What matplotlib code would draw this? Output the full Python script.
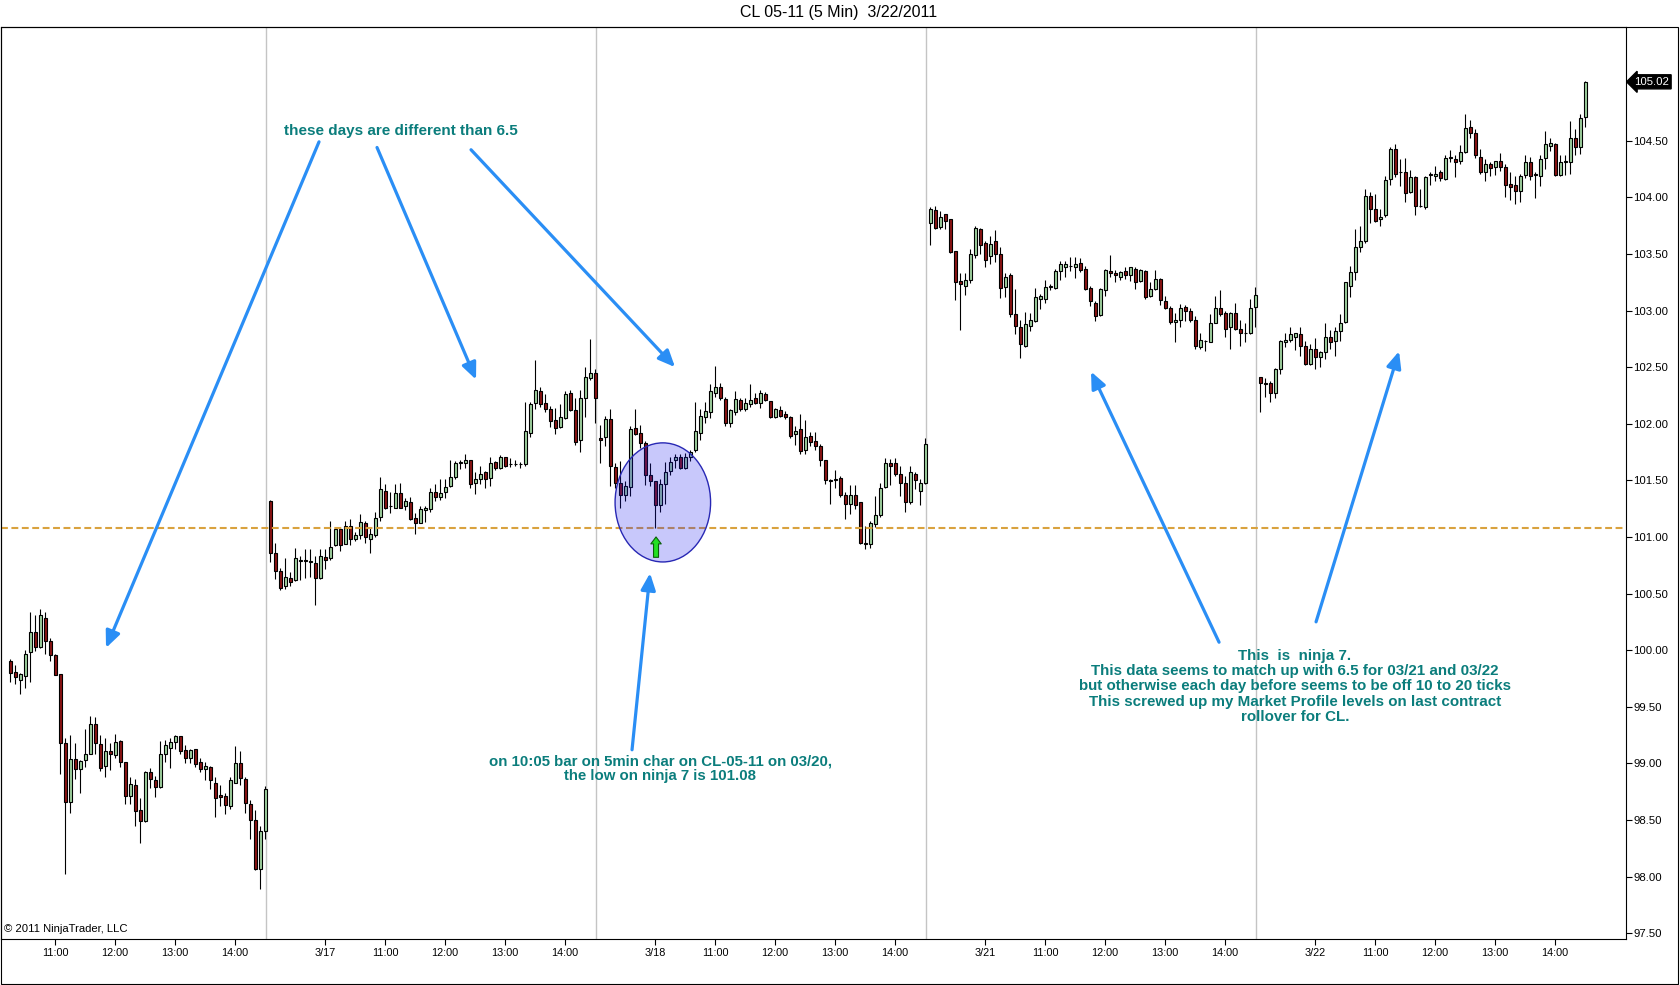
import numpy as np
import matplotlib
matplotlib.use("Agg")
import matplotlib.pyplot as plt
import matplotlib.transforms as mtransforms
from matplotlib.patches import Ellipse, Rectangle
from datetime import datetime, timedelta

plt.rcParams['font.family'] = ['Liberation Sans', 'DejaVu Sans']

# sessions on the chart (5 min bars, 9:05 .. 14:30)
days = ['3/16', '3/17', '3/18', '3/21', '3/22']
first_bar = ['10:15', '09:05', '09:05', '09:05', '09:05']

open_0316 = [99.90, 99.81, 99.74, 99.77, 99.98, 100.16, 100.03, 100.28, 100.08, 99.96,
             99.79, 99.18, 98.66, 99.04, 98.95, 99.03, 99.08, 99.35, 99.17, 98.98,
             99.11, 99.07, 99.20, 99.01, 98.71, 98.81, 98.59, 98.49, 98.92, 98.85,
             98.79, 99.08, 99.14, 99.19, 99.24, 99.12, 99.05, 99.13, 99.01, 98.95,
             98.97, 98.83, 98.72, 98.71, 98.62, 98.83, 99.00, 98.86, 98.64, 98.50,
             98.07, 98.40]
high_0316 = [99.92, 99.87, 99.80, 100.00, 100.34, 100.31, 100.36, 100.34, 100.11, 99.97,
             99.79, 99.22, 99.25, 99.18, 99.03, 99.30, 99.42, 99.41, 99.25, 99.22,
             99.18, 99.26, 99.21, 99.01, 98.88, 98.86, 98.69, 98.93, 98.96, 98.89,
             99.20, 99.21, 99.22, 99.25, 99.24, 99.16, 99.13, 99.13, 99.05, 99.01,
             98.98, 98.88, 98.81, 98.74, 98.88, 99.15, 99.11, 98.88, 98.68, 98.59,
             98.45, 98.80]
low_0316 = [99.72, 99.70, 99.61, 99.67, 99.72, 99.99, 100.02, 99.97, 99.90, 99.78,
            98.91, 98.02, 98.56, 98.86, 98.74, 98.97, 99.08, 99.08, 98.93, 98.88,
            98.94, 99.05, 98.97, 98.64, 98.64, 98.45, 98.30, 98.48, 98.78, 98.70,
            98.78, 99.01, 98.96, 99.13, 99.08, 99.00, 99.00, 98.97, 98.92, 98.85,
            98.77, 98.53, 98.62, 98.55, 98.60, 98.83, 98.81, 98.56, 98.33, 98.06,
            97.89, 98.33]
close_0316 = [99.80, 99.76, 99.79, 99.97, 100.16, 100.03, 100.31, 100.08, 99.96, 99.78,
              99.18, 98.66, 99.04, 98.95, 99.02, 99.08, 99.35, 99.18, 98.96, 99.11,
              99.08, 99.19, 99.01, 98.71, 98.82, 98.58, 98.49, 98.92, 98.86, 98.79,
              99.08, 99.16, 99.19, 99.24, 99.11, 99.05, 99.12, 98.99, 98.95, 98.98,
              98.85, 98.69, 98.70, 98.63, 98.85, 99.00, 98.87, 98.65, 98.50, 98.07,
              98.40, 98.77]

open_0317 = [101.32, 100.86, 100.70, 100.57, 100.64, 100.62, 100.79, 100.79, 100.78, 100.77,
             100.64, 100.82, 100.81, 100.93, 101.07, 100.94, 101.10, 100.98, 101.02, 101.12,
             100.98, 101.02, 101.18, 101.41, 101.27, 101.26, 101.39, 101.27, 101.31, 101.17,
             101.12, 101.24, 101.25, 101.40, 101.35, 101.40, 101.45, 101.53, 101.65, 101.65,
             101.68, 101.48, 101.51, 101.57, 101.52, 101.66, 101.61, 101.71, 101.64, 101.64,
             101.64, 101.64, 101.92, 102.18, 102.29, 102.18, 102.13, 102.03, 101.97, 102.05,
             102.27, 102.12, 101.86, 102.23, 102.40, 102.45]
high_0317 = [101.33, 100.95, 100.73, 100.81, 100.69, 100.90, 100.83, 100.89, 100.89, 100.83,
             100.89, 100.89, 101.14, 101.08, 101.09, 101.14, 101.16, 101.04, 101.20, 101.14,
             101.09, 101.22, 101.53, 101.47, 101.40, 101.47, 101.48, 101.34, 101.35, 101.21,
             101.27, 101.27, 101.43, 101.47, 101.51, 101.51, 101.68, 101.67, 101.68, 101.73,
             101.68, 101.57, 101.63, 101.58, 101.71, 101.67, 101.72, 101.71, 101.70, 101.68,
             101.66, 102.19, 102.19, 102.56, 102.32, 102.26, 102.16, 102.14, 102.17, 102.29,
             102.30, 102.23, 102.30, 102.50, 102.75, 102.48]
low_0317 = [100.78, 100.63, 100.53, 100.54, 100.57, 100.61, 100.62, 100.64, 100.65, 100.40,
            100.63, 100.72, 100.80, 100.92, 100.88, 100.94, 100.93, 100.96, 100.98, 100.95,
            100.86, 101.00, 101.14, 101.25, 101.21, 101.26, 101.26, 101.24, 101.15, 101.03,
            101.12, 101.13, 101.22, 101.32, 101.33, 101.34, 101.44, 101.51, 101.60, 101.61,
            101.43, 101.38, 101.47, 101.43, 101.45, 101.59, 101.60, 101.62, 101.62, 101.63,
            101.61, 101.63, 101.88, 102.13, 102.15, 102.10, 101.97, 101.91, 101.96, 102.04,
            102.11, 101.81, 101.75, 102.06, 102.39, 102.01]
close_0317 = [100.86, 100.70, 100.55, 100.65, 100.60, 100.81, 100.80, 100.79, 100.79, 100.64,
              100.83, 100.80, 100.91, 101.07, 100.93, 101.10, 100.98, 101.02, 101.13, 101.00,
              101.03, 101.17, 101.42, 101.26, 101.27, 101.39, 101.26, 101.32, 101.16, 101.12,
              101.25, 101.26, 101.40, 101.35, 101.39, 101.44, 101.53, 101.65, 101.66, 101.68,
              101.47, 101.51, 101.56, 101.51, 101.65, 101.61, 101.71, 101.63, 101.64, 101.64,
              101.64, 101.94, 102.17, 102.30, 102.17, 102.13, 102.02, 101.96, 102.06, 102.26,
              102.12, 101.84, 102.23, 102.41, 102.45, 102.23]

open_0318 = [101.87, 101.88, 102.04, 101.62, 101.48, 101.37, 101.44, 101.96, 101.92, 101.83,
             101.55, 101.49, 101.28, 101.47, 101.58, 101.68, 101.71, 101.61, 101.71, 101.77,
             101.92, 102.06, 102.10, 102.27, 102.32, 102.22, 102.01, 102.10, 102.21, 102.13,
             102.17, 102.23, 102.18, 102.26, 102.20, 102.06, 102.12, 102.09, 102.06, 101.91,
             101.95, 101.77, 101.89, 101.85, 101.80, 101.68, 101.50, 101.50, 101.52, 101.37,
             101.29, 101.37, 101.31, 100.95, 100.94, 101.11, 101.19, 101.44, 101.65, 101.65,
             101.56, 101.48, 101.31, 101.56, 101.41, 101.48]
high_0318 = [101.99, 102.07, 102.13, 101.65, 101.67, 101.49, 101.98, 102.13, 101.99, 101.85,
             101.65, 101.49, 101.51, 101.66, 101.71, 101.73, 101.73, 101.74, 101.77, 102.19,
             102.13, 102.19, 102.35, 102.51, 102.36, 102.24, 102.13, 102.29, 102.23, 102.23,
             102.35, 102.27, 102.30, 102.28, 102.20, 102.14, 102.16, 102.11, 102.07, 101.98,
             102.09, 102.03, 101.93, 101.93, 101.82, 101.68, 101.51, 101.59, 101.54, 101.40,
             101.46, 101.46, 101.31, 101.10, 101.14, 101.36, 101.48, 101.70, 101.69, 101.70,
             101.63, 101.54, 101.63, 101.57, 101.51, 101.87]
low_0318 = [101.65, 101.80, 101.45, 101.43, 101.26, 101.32, 101.36, 101.90, 101.79, 101.46,
            101.45, 101.08, 101.22, 101.29, 101.55, 101.61, 101.60, 101.60, 101.67, 101.75,
            101.86, 102.01, 102.05, 102.24, 102.21, 101.98, 101.97, 102.08, 102.11, 102.11,
            102.15, 102.17, 102.14, 102.20, 102.05, 102.05, 102.06, 102.04, 101.87, 101.81,
            101.73, 101.73, 101.80, 101.77, 101.63, 101.47, 101.29, 101.43, 101.35, 101.16,
            101.20, 101.25, 100.94, 100.89, 100.90, 101.09, 101.18, 101.43, 101.46, 101.54,
            101.36, 101.22, 101.29, 101.42, 101.28, 101.47]
close_0318 = [101.86, 102.04, 101.63, 101.48, 101.37, 101.45, 101.95, 101.91, 101.83, 101.55,
              101.49, 101.28, 101.47, 101.57, 101.66, 101.71, 101.61, 101.71, 101.75, 101.94,
              102.07, 102.11, 102.29, 102.32, 102.23, 102.01, 102.12, 102.22, 102.13, 102.18,
              102.21, 102.18, 102.27, 102.21, 102.06, 102.13, 102.07, 102.06, 101.89, 101.94,
              101.76, 101.88, 101.84, 101.80, 101.68, 101.50, 101.49, 101.51, 101.37, 101.29,
              101.37, 101.28, 100.95, 100.94, 101.12, 101.19, 101.43, 101.65, 101.63, 101.56,
              101.48, 101.31, 101.57, 101.50, 101.48, 101.82]

open_0321 = [103.77, 103.89, 103.74, 103.85, 103.81, 103.53, 103.26, 103.22, 103.27, 103.49,
             103.72, 103.60, 103.48, 103.61, 103.50, 103.21, 103.31, 102.97, 102.85, 102.69,
             102.86, 102.91, 103.10, 103.10, 103.21, 103.20, 103.35, 103.38, 103.39, 103.38,
             103.42, 103.37, 103.20, 103.07, 102.96, 103.18, 103.35, 103.33, 103.30, 103.35,
             103.31, 103.37, 103.26, 103.35, 103.13, 103.19, 103.28, 103.08, 103.02, 102.90,
             102.92, 103.03, 103.00, 102.92, 102.68, 102.73, 102.72, 102.89, 103.02, 102.98,
             102.85, 102.98, 102.84, 102.80, 102.80, 103.03]
high_0321 = [103.91, 103.92, 103.88, 103.85, 103.81, 103.53, 103.33, 103.33, 103.54, 103.75,
             103.73, 103.61, 103.66, 103.71, 103.56, 103.33, 103.33, 103.19, 102.92, 102.99,
             102.98, 103.20, 103.15, 103.27, 103.23, 103.37, 103.44, 103.44, 103.47, 103.47,
             103.46, 103.39, 103.22, 103.08, 103.20, 103.37, 103.49, 103.36, 103.35, 103.38,
             103.38, 103.38, 103.37, 103.36, 103.25, 103.36, 103.29, 103.13, 103.04, 102.98,
             103.06, 103.05, 103.02, 102.95, 102.80, 102.74, 102.97, 103.13, 103.18, 103.00,
             102.99, 103.07, 102.92, 102.89, 103.10, 103.21]
low_0321 = [103.58, 103.72, 103.72, 103.72, 103.51, 103.09, 102.83, 103.14, 103.24, 103.46,
            103.50, 103.38, 103.41, 103.43, 103.11, 103.12, 102.94, 102.79, 102.58, 102.68,
            102.82, 102.90, 103.01, 103.07, 103.18, 103.19, 103.27, 103.30, 103.35, 103.29,
            103.34, 103.18, 103.04, 102.91, 102.95, 103.13, 103.30, 103.25, 103.27, 103.28,
            103.26, 103.19, 103.25, 103.10, 103.12, 103.18, 103.05, 103.01, 102.88, 102.72,
            102.85, 102.91, 102.90, 102.66, 102.66, 102.64, 102.72, 102.89, 102.95, 102.77,
            102.66, 102.83, 102.69, 102.72, 102.79, 102.85]
close_0321 = [103.90, 103.73, 103.83, 103.79, 103.52, 103.25, 103.23, 103.27, 103.50, 103.73,
              103.58, 103.45, 103.59, 103.50, 103.20, 103.30, 102.97, 102.86, 102.70, 102.88,
              102.92, 103.12, 103.13, 103.21, 103.21, 103.35, 103.41, 103.41, 103.39, 103.41,
              103.36, 103.19, 103.08, 102.95, 103.19, 103.36, 103.33, 103.31, 103.34, 103.31,
              103.38, 103.25, 103.36, 103.12, 103.19, 103.28, 103.09, 103.02, 102.90, 102.92,
              103.02, 103.00, 102.92, 102.69, 102.74, 102.73, 102.89, 103.02, 102.97, 102.84,
              102.98, 102.84, 102.80, 102.80, 103.02, 103.14]

open_0322 = [102.41, 102.36, 102.36, 102.27, 102.48, 102.72, 102.74, 102.77, 102.79, 102.69,
             102.53, 102.66, 102.59, 102.63, 102.77, 102.73, 102.82, 102.90, 103.22, 103.34,
             103.56, 103.61, 104.01, 103.90, 103.81, 103.84, 104.16, 104.43, 104.22, 104.22,
             104.05, 104.18, 103.92, 103.91, 104.20, 104.19, 104.22, 104.16, 104.35, 104.34,
             104.32, 104.40, 104.62, 104.57, 104.36, 104.22, 104.29, 104.27, 104.32, 104.27,
             104.12, 104.11, 104.06, 104.20, 104.31, 104.20, 104.19, 104.35, 104.45, 104.47,
             104.20, 104.31, 104.31, 104.52, 104.44, 104.71]
high_0322 = [102.41, 102.40, 102.38, 102.49, 102.74, 102.80, 102.85, 102.80, 102.85, 102.73,
             102.70, 102.76, 102.64, 102.89, 102.83, 102.85, 102.97, 103.25, 103.39, 103.72,
             103.75, 104.07, 104.05, 104.03, 103.90, 104.19, 104.44, 104.47, 104.34, 104.35,
             104.24, 104.19, 104.07, 104.19, 104.22, 104.28, 104.24, 104.37, 104.42, 104.37,
             104.46, 104.74, 104.68, 104.60, 104.43, 104.34, 104.31, 104.32, 104.39, 104.29,
             104.22, 104.19, 104.21, 104.37, 104.36, 104.22, 104.37, 104.59, 104.52, 104.48,
             104.37, 104.37, 104.67, 104.60, 104.74, 105.03]
low_0322 = [102.10, 102.24, 102.19, 102.23, 102.44, 102.68, 102.72, 102.65, 102.60, 102.52,
            102.52, 102.48, 102.50, 102.57, 102.66, 102.60, 102.73, 102.89, 103.12, 103.27,
            103.52, 103.60, 103.77, 103.78, 103.75, 103.83, 104.11, 104.18, 104.10, 103.96,
            104.04, 103.84, 103.91, 103.90, 104.11, 104.14, 104.14, 104.15, 104.31, 104.18,
            104.29, 104.39, 104.52, 104.35, 104.21, 104.14, 104.19, 104.20, 104.23, 104.00,
            103.98, 103.94, 103.96, 104.17, 104.15, 103.99, 104.10, 104.25, 104.41, 104.19,
            104.19, 104.20, 104.21, 104.37, 104.38, 104.62]
close_0322 = [102.36, 102.35, 102.27, 102.48, 102.73, 102.74, 102.79, 102.80, 102.69, 102.53,
              102.66, 102.59, 102.63, 102.77, 102.72, 102.82, 102.89, 103.25, 103.34, 103.56,
              103.61, 104.01, 103.90, 103.79, 103.83, 104.15, 104.43, 104.21, 104.22, 104.04,
              104.18, 103.92, 103.92, 104.18, 104.20, 104.21, 104.17, 104.35, 104.35, 104.31,
              104.40, 104.61, 104.57, 104.37, 104.22, 104.29, 104.26, 104.32, 104.27, 104.11,
              104.09, 104.06, 104.19, 104.31, 104.19, 104.20, 104.34, 104.47, 104.48, 104.20,
              104.31, 104.32, 104.52, 104.44, 104.70, 105.02]

opens = [open_0316, open_0317, open_0318, open_0321, open_0322]
highs = [high_0316, high_0317, high_0318, high_0321, high_0322]
lows = [low_0316, low_0317, low_0318, low_0321, low_0322]
closes = [close_0316, close_0317, close_0318, close_0321, close_0322]

ninja_low = 101.08   # dashed level
label_times = ['10:00', '11:00', '12:00', '13:00', '14:00']

teal = '#0B7D7C'
blue = '#2A8EF5'

# ---- build one continuous bar axis (no gaps between sessions)
xs, o_all, h_all, l_all, c_all = [], [], [], [], []
tick_pos, tick_lab, day_starts = [], [], []
pos = 0
for d, day in enumerate(days):
    t0 = datetime.strptime(first_bar[d], '%H:%M')
    day_starts.append(pos)
    for k in range(len(opens[d])):
        t = (t0 + timedelta(minutes=5 * k)).strftime('%H:%M')
        if t in label_times:
            tick_pos.append(pos)
            tick_lab.append(day if t == '10:00' else t)
        xs.append(pos)
        pos += 1
    o_all += opens[d]; h_all += highs[d]; l_all += lows[d]; c_all += closes[d]

xs = np.array(xs, dtype=float)
o_all = np.array(o_all); h_all = np.array(h_all)
l_all = np.array(l_all); c_all = np.array(c_all)

fig = plt.figure(figsize=(16.8, 9.85), dpi=100)
ax = fig.add_axes([0.0006, 0.0464, 0.9673, 0.9257])

# session separators
for s in day_starts[1:]:
    ax.axvline(s - 0.9, color='#c4c4c4', lw=1, zorder=1)

# candles
colors = np.where(c_all > o_all, '#9fd29f', '#8b1414')
ax.vlines(xs, l_all, h_all, color='black', lw=0.8, zorder=2)
body_h = np.maximum(np.abs(c_all - o_all), 0.004)
ax.bar(xs, body_h, bottom=np.minimum(o_all, c_all), width=0.6,
       color=colors, edgecolor='black', linewidth=0.8, zorder=3)

# 101.08 level
ax.axhline(ninja_low, color='#d9a23e', lw=1.5, linestyle=(0, (3.3, 1.7)), zorder=4)

# highlighted area around the 10:05 bar on 3/18
ax.add_patch(Ellipse((130.56, 101.305), 19.1, 1.052, facecolor=(0.1, 0.1, 0.95, 0.24),
                     edgecolor='#2828b4', lw=1.0, zorder=5))
ax.annotate('', xy=(129.2, 101.00), xytext=(129.2, 100.82),
            arrowprops=dict(arrowstyle='simple,head_width=0.75,head_length=0.5,tail_width=0.36',
                            fc='#22e022', ec='#0b5e0b', lw=0.8, shrinkA=0, shrinkB=0,
                            mutation_scale=10), zorder=6)

# blue arrows
arrows = [((61.8, 104.49), (19.2, 100.02)),
          ((73.4, 104.44), (93.2, 102.39)),
          ((92.2, 104.42), (133.0, 102.50)),
          ((124.4, 99.12), (128.0, 100.68)),
          ((241.8, 100.07), (216.2, 102.46)),
          ((261.2, 100.25), (277.8, 102.64))]
for start, end in arrows:
    ax.annotate('', xy=end, xytext=start, zorder=7,
                arrowprops=dict(arrowstyle='-|>,head_length=0.5,head_width=0.22', lw=2.3,
                                color=blue, shrinkA=0, shrinkB=0, mutation_scale=20))

ax.text(78.1, 104.59, 'these days are different than 6.5', color=teal, fontsize=11,
        fontweight='bold', ha='center', va='center', zorder=8)
ax.text(130, 98.95, 'on 10:05 bar on 5min char on CL-05-11 on 03/20,\nthe low on ninja 7 is 101.08',
        color=teal, fontsize=10.8, fontweight='bold', ha='center', va='center',
        linespacing=1.05, zorder=8)
ax.text(257, 99.68, 'This  is  ninja 7.\n'
        'This data seems to match up with 6.5 for 03/21 and 03/22\n'
        'but otherwise each day before seems to be off 10 to 20 ticks\n'
        'This screwed up my Market Profile levels on last contract\n'
        'rollover for CL.',
        color=teal, fontsize=10.9, fontweight='bold', ha='center', va='center',
        linespacing=1.13, zorder=8)

# axes styling
ax.set_xlim(-1.8, 323.2)
ax.set_ylim(97.446, 105.50)
ax.set_xticks(tick_pos)
ax.set_xticklabels(tick_lab)
ax.yaxis.tick_right()
ax.set_yticks(np.arange(97.5, 104.51, 0.5))
ax.yaxis.set_major_formatter(plt.FormatStrFormatter('%.2f'))
ax.tick_params(axis='x', labelsize=7.8, length=4, width=0.8, direction='out', pad=2)
ax.tick_params(axis='y', labelsize=8.2, length=4, width=0.8, direction='out', pad=1)
for sp in ax.spines.values():
    sp.set_linewidth(0.8)

# last price marker
trans = mtransforms.blended_transform_factory(ax.transAxes, ax.transData)
ax.text(1.005, c_all[-1], f'{c_all[-1]:.2f}', transform=trans, color='white', fontsize=8.2,
        ha='left', va='center', clip_on=False,
        bbox=dict(boxstyle='larrow,pad=0.18', fc='black', ec='black'))

ax.text(0.002, 0.006, '\u00a9 2011 NinjaTrader, LLC', transform=ax.transAxes,
        fontsize=8.1, ha='left', va='bottom')

fig.text(0.4994, 1 - 13 / 985, 'CL 05-11 (5 Min)  3/22/2011', ha='center', va='center',
         fontsize=11.5)
fig.add_artist(Rectangle((0.0003, 0.0015), 0.9985, 0.9706, transform=fig.transFigure,
                         fill=False, lw=0.8, edgecolor='black'))

fig.savefig('out.png', dpi=100)
